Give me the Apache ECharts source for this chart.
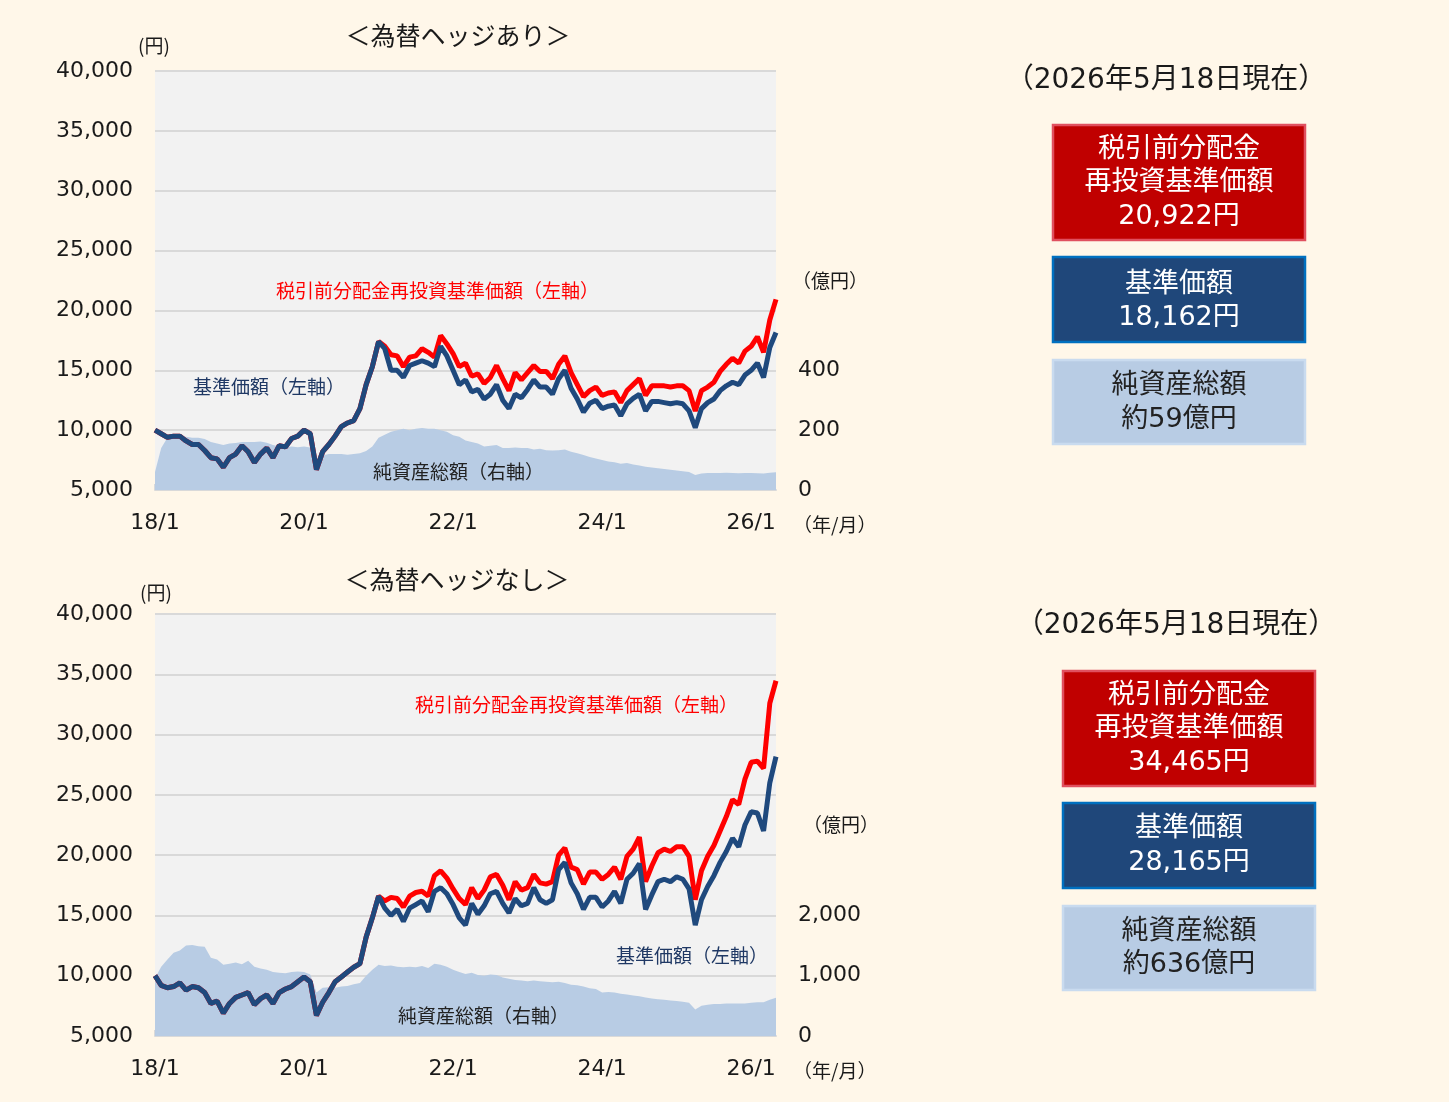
<!DOCTYPE html>
<html>
<head>
<meta charset="utf-8">
<script src="https://cdn.jsdelivr.net/npm/echarts@6.0.0/dist/echarts.min.js"></script>
<style>
  html, body { margin: 0; padding: 0; background: #fff7e9; }
  #chart { width: 1449px; height: 1102px; }
</style>
</head>
<body>
<div id="chart"></div>
<script>
// month categories 18/1 .. 26/5
const months = [];
for (let y = 18; y <= 26; y++) {
  for (let m = 1; m <= 12; m++) {
    if (y === 26 && m > 5) break;
    months.push(y + '/' + m);
  }
}
const tickLabels = ['18/1', '20/1', '22/1', '24/1', '26/1'];

// 為替ヘッジあり
const hedgedNav = [
  10000, 9700, 9400, 9500, 9500, 9100, 8800, 8800, 8300, 7700, 7600, 6900,
  7700, 8000, 8700, 8200, 7300, 8000, 8500, 7700, 8700, 8600, 9300, 9500,
  10000, 9700, 6700, 8200, 8800, 9500, 10300, 10600, 10800, 11800, 13800, 15300,
  17400, 16800, 15000, 15000, 14400, 15400, 15600, 15800, 15600, 15300, 17000, 16200,
  15000, 13800, 14200, 13200, 13400, 12600, 13000, 13800, 12500, 11800, 13000, 12700,
  13400, 14200, 13600, 13600, 13000, 14300, 15000, 13500, 12600, 11500, 12250, 12500,
  11800, 12000, 12100, 11200, 12200, 12650, 13000, 11600, 12400, 12400, 12300, 12200,
  12300, 12200, 11600, 10200, 11800, 12300, 12600, 13300, 13700, 14000, 13800, 14600,
  15000, 15600, 14400, 16900, 18162
];
const hedgedReinvest = [
  10000, 9700, 9400, 9500, 9500, 9100, 8800, 8800, 8300, 7700, 7600, 6900,
  7700, 8000, 8700, 8200, 7300, 8000, 8500, 7700, 8700, 8600, 9300, 9500,
  10000, 9700, 6700, 8200, 8800, 9500, 10300, 10600, 10800, 11800, 13800, 15300,
  17400, 17000, 16300, 16200, 15300, 16100, 16200, 16800, 16500, 16100, 17900, 17200,
  16400, 15300, 15600, 14500, 14700, 13900, 14400, 15400, 14300, 13300, 14800, 14200,
  14800, 15400, 14900, 14900, 14300, 15500, 16200, 14800, 13800, 12800, 13300, 13600,
  12900, 13100, 13200, 12300, 13300, 13800, 14300, 12900, 13700, 13700, 13700, 13600,
  13700, 13700, 13300, 11600, 13300, 13600, 14000, 14900, 15500, 16000, 15600, 16600,
  17000, 17800, 16500, 19200, 20922
];
const hedgedAum = [
  60, 140, 175, 180, 180, 178, 175, 175, 170, 160, 155, 150,
  155, 157, 160, 160, 160, 162, 158, 150, 145, 143, 145, 143,
  145, 142, 100, 115, 120, 120, 120, 118, 120, 123, 130, 145,
  175, 185, 195, 200, 205, 200, 205, 207, 205, 205, 200, 195,
  183, 178, 165, 160, 155, 145, 148, 150, 140, 140, 142, 140,
  140, 135, 138, 133, 132, 133, 135, 128, 123, 117, 110, 105,
  100, 95, 93, 88, 90, 85, 82, 78, 75, 73, 70, 68,
  65, 63, 60, 50, 55, 57, 57, 57, 58, 57, 56, 57,
  57, 56, 55, 58, 59
];

// 為替ヘッジなし
const unhedgedNav = [
  10000, 9200, 9000, 9100, 9400, 8800, 9100, 9000, 8600, 7700, 7900, 6900,
  7700, 8200, 8400, 8600, 7600, 8100, 8400, 7700, 8600, 8900, 9100, 9500,
  9900, 9500, 6700, 7800, 8600, 9500, 9900, 10300, 10700, 11000, 13200, 14800,
  16600, 15600, 15000, 15500, 14500, 15600, 15900, 16200, 15300, 17000, 17300, 16800,
  15900, 14800, 14200, 16000, 15100, 15800, 16800, 17000, 16000, 15200, 16400, 15800,
  16000, 17300, 16300, 16000, 16300, 18800, 19400, 17700, 16800, 15500, 16500, 16500,
  15700, 16200, 17000, 16000, 18000, 18500, 19300, 15500, 16700, 17800, 18000, 17800,
  18200, 18000, 17200, 14200, 16300, 17400, 18300, 19400, 20300, 21400, 20700, 22500,
  23600, 23500, 22000, 26000, 28165
];
const unhedgedReinvest = [
  10000, 9200, 9000, 9100, 9400, 8800, 9100, 9000, 8600, 7700, 7900, 6900,
  7700, 8200, 8400, 8600, 7600, 8100, 8400, 7700, 8600, 8900, 9100, 9500,
  9900, 9500, 6700, 7800, 8600, 9500, 9900, 10300, 10700, 11000, 13200, 14800,
  16600, 16200, 16500, 16400, 15700, 16600, 16900, 17000, 16600, 18300, 18700, 18100,
  17200, 16400, 15900, 17300, 16400, 17100, 18200, 18400, 17500, 16300, 17800, 17100,
  17300, 18400, 17700, 17600, 17800, 20000, 20600, 19000, 18800, 17600, 18600, 18600,
  18000, 18400, 19000, 18000, 19900, 20500, 21500, 17800, 19100, 20200, 20500, 20300,
  20700, 20700, 19900, 16300, 18700, 19900, 20800, 22000, 23200, 24600, 24200, 26300,
  27700, 27800, 27200, 32600, 34465
];
const unhedgedAum = [
  960, 1150, 1270, 1380, 1420, 1500, 1510, 1490, 1480, 1300, 1270, 1180,
  1200, 1220, 1190, 1250, 1150, 1120, 1100, 1060, 1050, 1040, 1060, 1070,
  1060, 1020, 720, 800, 810, 800, 820, 830, 860, 880, 1000, 1100,
  1180, 1160, 1170, 1150, 1140, 1150, 1140, 1160, 1130, 1200, 1180, 1150,
  1100, 1060, 1030, 1050, 1010, 1000, 1020, 1010, 970, 950, 930, 920,
  910, 920, 910, 900, 890, 900, 880, 850, 840, 820, 790, 780,
  720, 730, 720, 700, 690, 670, 660, 640, 620, 610, 600, 590,
  580, 570, 550, 440, 500, 520, 530, 530, 540, 540, 540, 540,
  550, 560, 560, 600, 636
];

const JP = "'Noto Sans CJK JP', sans-serif";
const NUM = "'DejaVu Sans', 'Noto Sans CJK JP', sans-serif";
const RED = '#ff0000';
const NAVY = '#1f497d';
const AREA = '#b8cce4';

const fmt = v => v.toLocaleString('en-US');

function xAxis(gridIndex) {
  return {
    type: 'category', gridIndex, data: months, boundaryGap: false,
    axisLine: { lineStyle: { color: '#d9d9d9', width: 2 } },
    axisTick: {
      show: true, inside: true, length: 6,
      interval: (i, v) => tickLabels.includes(v),
      lineStyle: { color: '#d9d9d9', width: 2 }
    },
    axisLabel: {
      interval: (i, v) => tickLabels.includes(v),
      color: '#1a1a1a', fontFamily: NUM, fontSize: 22, margin: 22
    }
  };
}
function leftAxis(gridIndex) {
  return {
    type: 'value', gridIndex, min: 5000, max: 40000, interval: 5000,
    axisLine: { show: false }, axisTick: { show: false },
    splitLine: { lineStyle: { color: '#d9d9d9', width: 2 } },
    axisLabel: { color: '#1a1a1a', fontFamily: NUM, fontSize: 22, margin: 22,
                 padding: [5, 0, 0, 0], formatter: fmt }
  };
}
function rightAxis(gridIndex, max, step, lastShown) {
  return {
    type: 'value', gridIndex, position: 'right', min: 0, max, interval: step,
    axisLine: { show: false }, axisTick: { show: false }, splitLine: { show: false },
    axisLabel: {
      color: '#1a1a1a', fontFamily: NUM, fontSize: 22, margin: 22, padding: [5, 0, 0, 0],
      formatter: v => (v <= lastShown ? fmt(v) : '')
    }
  };
}
function series(xi, yl, yr, aum, reinvest, nav) {
  return [
    { type: 'line', xAxisIndex: xi, yAxisIndex: yr, data: aum, symbol: 'none',
      lineStyle: { width: 0 }, areaStyle: { color: AREA, opacity: 1 }, z: 1 },
    { type: 'line', xAxisIndex: xi, yAxisIndex: yl, data: reinvest, symbol: 'none',
      lineStyle: { color: RED, width: 5 }, z: 2 },
    { type: 'line', xAxisIndex: xi, yAxisIndex: yl, data: nav, symbol: 'none',
      lineStyle: { color: NAVY, width: 5 }, z: 3 }
  ];
}

function txt(x, y, text, size, color, family, align) {
  return {
    type: 'text', x, y, z: 100,
    style: { text, fontSize: size, fill: color, fontFamily: family || JP,
             align: align || 'left', verticalAlign: 'middle' }
  };
}
function box(x, y, w, h, fill, stroke, lines, color, lineY) {
  const g = [{ type: 'rect', shape: { x, y, width: w, height: h }, z: 90,
               style: { fill, stroke, lineWidth: 2.5 } }];
  lines.forEach((t, k) => g.push(txt(x + w / 2, lineY[k], t, 27, color, NUM, 'center')));
  return g;
}

const graphics = [].concat(
  txt(458, 35, '＜為替ヘッジあり＞', 25, '#1a1a1a', JP, 'center'),
  txt(457, 579, '＜為替ヘッジなし＞', 25, '#1a1a1a', JP, 'center'),
  txt(138, 46, '(円)', 19, '#1a1a1a'),
  txt(140, 593, '(円)', 19, '#1a1a1a'),
  txt(792, 281, '（億円）', 19, '#1a1a1a'),
  txt(803, 825, '（億円）', 19, '#1a1a1a'),
  txt(793, 525, '（年/月）', 19, '#1a1a1a'),
  txt(793, 1071, '（年/月）', 19, '#1a1a1a'),
  txt(276, 291, '税引前分配金再投資基準価額（左軸）', 19, RED),
  txt(193, 387, '基準価額（左軸）', 19, '#1f3864'),
  txt(373, 472, '純資産総額（右軸）', 19, '#222'),
  txt(415, 705, '税引前分配金再投資基準価額（左軸）', 19, RED),
  txt(616, 956, '基準価額（左軸）', 19, '#1f3864'),
  txt(398, 1016, '純資産総額（右軸）', 19, '#222'),
  txt(1166, 81, '（2026年5月18日現在）', 28, '#1a1a1a', NUM, 'center'),
  txt(1176, 626, '（2026年5月18日現在）', 28, '#1a1a1a', NUM, 'center'),
  box(1053, 125, 252, 115, '#c00000', '#e0505f', ['税引前分配金', '再投資基準価額', '20,922円'], '#fff', [150, 183, 217]),
  box(1053, 257, 252, 85, '#1f477a', '#0070c0', ['基準価額', '18,162円'], '#fff', [285, 318]),
  box(1053, 360, 252, 84, '#b8cce4', '#c9dbef', ['純資産総額', '約59億円'], '#222', [386, 420]),
  box(1063, 671, 252, 115, '#c00000', '#e0505f', ['税引前分配金', '再投資基準価額', '34,465円'], '#fff', [696, 729, 763]),
  box(1063, 803, 252, 85, '#1f477a', '#0070c0', ['基準価額', '28,165円'], '#fff', [829, 863]),
  box(1063, 906, 252, 84, '#b8cce4', '#c9dbef', ['純資産総額', '約636億円'], '#222', [932, 965])
);

const chart = echarts.init(document.getElementById('chart'));
chart.setOption({
  backgroundColor: '#fff7e9',
  animation: false,
  grid: [
    { left: 155, top: 71, width: 621, height: 419, show: true, backgroundColor: '#f2f2f2', borderWidth: 0 },
    { left: 155, top: 614, width: 621, height: 422, show: true, backgroundColor: '#f2f2f2', borderWidth: 0 }
  ],
  xAxis: [xAxis(0), xAxis(1)],
  yAxis: [leftAxis(0), rightAxis(0, 1400, 200, 400), leftAxis(1), rightAxis(1, 7000, 1000, 2000)],
  series: [].concat(
    series(0, 0, 1, hedgedAum, hedgedReinvest, hedgedNav),
    series(1, 2, 3, unhedgedAum, unhedgedReinvest, unhedgedNav)
  ),
  graphic: graphics
});
</script>
</body>
</html>
